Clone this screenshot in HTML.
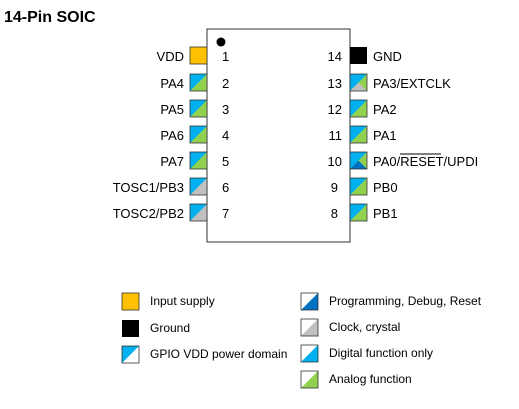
<!DOCTYPE html>
<html><head><style>body{margin:0;background:#fff}</style></head><body>
<svg width="519" height="404" xmlns="http://www.w3.org/2000/svg" font-family="Liberation Sans, sans-serif" font-size="13">
<defs>
<g id="bg"><rect width="17" height="17" fill="#92d050"/><polygon points="0,0 17,0 0,17" fill="#00b0f0"/><rect width="17" height="17" fill="none" stroke="#333" stroke-width="0.8"/></g>
<g id="bgr"><rect width="17" height="17" fill="#c0c0c0"/><polygon points="0,0 17,0 0,17" fill="#00b0f0"/><rect width="17" height="17" fill="none" stroke="#333" stroke-width="0.8"/></g>
</defs>
<text x="4" y="22" font-weight="bold" font-size="16">14-Pin SOIC</text>
<rect x="207" y="29" width="143" height="213" fill="#fff" stroke="#333" stroke-width="1"/>
<circle cx="221" cy="42" r="4.5" fill="#000"/>
<rect x="190" y="47" width="17" height="17" fill="#ffc000" stroke="#333" stroke-width="0.8"/>
<use href="#bg" x="190" y="74"/><use href="#bg" x="190" y="100"/><use href="#bg" x="190" y="126"/><use href="#bg" x="190" y="152"/>
<use href="#bgr" x="190" y="178"/><use href="#bgr" x="190" y="204"/>
<g text-anchor="end">
<text x="184" y="61">VDD</text><text x="184" y="88">PA4</text><text x="184" y="114">PA5</text><text x="184" y="140">PA6</text><text x="184" y="166">PA7</text><text x="184" y="192">TOSC1/PB3</text><text x="184" y="218">TOSC2/PB2</text>
</g>
<g>
<text x="222" y="61">1</text><text x="222" y="88">2</text><text x="222" y="114">3</text><text x="222" y="140">4</text><text x="222" y="166">5</text><text x="222" y="192">6</text><text x="222" y="218">7</text>
</g>
<g text-anchor="end">
<text x="342" y="61">14</text><text x="342" y="88">13</text><text x="342" y="114">12</text><text x="342" y="140">11</text><text x="342" y="166">10</text><text x="338" y="192">9</text><text x="338" y="218">8</text>
</g>
<rect x="350" y="47" width="17" height="17" fill="#000"/>
<g transform="translate(350,74)"><rect width="17" height="17" fill="#92d050"/><polygon points="0,0 17,0 8.5,8.5" fill="#00b0f0"/><polygon points="0,0 8.5,8.5 0,17" fill="#00b0f0"/><polygon points="0,17 8.5,8.5 17,17" fill="#c0c0c0"/><rect width="17" height="17" fill="none" stroke="#333" stroke-width="0.8"/></g>
<use href="#bg" x="350" y="100"/><use href="#bg" x="350" y="126"/>
<g transform="translate(350,152)"><rect width="17" height="17" fill="#92d050"/><polygon points="0,0 17,0 0,17" fill="#00b0f0"/><polygon points="0,17 8.5,8.5 17,17" fill="#0070c0"/><rect width="17" height="17" fill="none" stroke="#333" stroke-width="0.8"/></g>
<use href="#bg" x="350" y="178"/><use href="#bg" x="350" y="204"/>
<text x="373" y="61">GND</text><text x="373" y="88">PA3/EXTCLK</text><text x="373" y="114">PA2</text><text x="373" y="140">PA1</text><text x="373" y="166">PA0/RESET/UPDI</text><text x="373" y="192">PB0</text><text x="373" y="218">PB1</text>
<line x1="400" y1="154" x2="441" y2="154" stroke="#000" stroke-width="1"/>
<g font-size="12">
<rect x="122" y="293" width="17" height="17" fill="#ffc000" stroke="#333" stroke-width="0.8"/>
<rect x="122" y="320" width="17" height="17" fill="#000"/>
<g transform="translate(122,346)"><rect width="17" height="17" fill="#fff"/><polygon points="0,0 17,0 0,17" fill="#00b0f0"/><rect width="17" height="17" fill="none" stroke="#333" stroke-width="0.8"/></g>
<text x="150" y="305">Input supply</text><text x="150" y="332">Ground</text><text x="150" y="358">GPIO VDD power domain</text>
<g transform="translate(301,293)"><rect width="17" height="17" fill="#fff"/><polygon points="17,0 17,17 0,17" fill="#0070c0"/><rect width="17" height="17" fill="none" stroke="#333" stroke-width="0.8"/></g>
<g transform="translate(301,319)"><rect width="17" height="17" fill="#fff"/><polygon points="17,0 17,17 0,17" fill="#c0c0c0"/><rect width="17" height="17" fill="none" stroke="#333" stroke-width="0.8"/></g>
<g transform="translate(301,345)"><rect width="17" height="17" fill="#fff"/><polygon points="17,0 17,17 0,17" fill="#00b0f0"/><rect width="17" height="17" fill="none" stroke="#333" stroke-width="0.8"/></g>
<g transform="translate(301,371)"><rect width="17" height="17" fill="#fff"/><polygon points="17,0 17,17 0,17" fill="#92d050"/><rect width="17" height="17" fill="none" stroke="#333" stroke-width="0.8"/></g>
<text x="329" y="305">Programming, Debug, Reset</text><text x="329" y="331">Clock, crystal</text><text x="329" y="357">Digital function only</text><text x="329" y="383">Analog function</text>
</g>
</svg>
</body></html>
